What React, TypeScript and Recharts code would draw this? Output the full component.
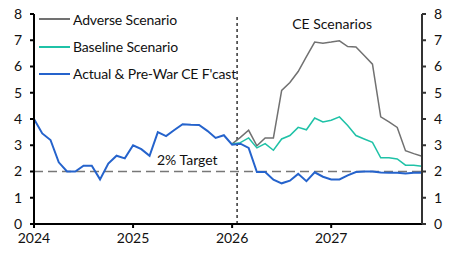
import {
  ComposedChart,
  Line,
  XAxis,
  YAxis,
  ReferenceLine,
} from 'recharts';

const YEARS = ['2024', '2025', '2026', '2027'];
const X_TICKS = [0, 12, 24, 36];
const Y_TICKS = [0, 1, 2, 3, 4, 5, 6, 7, 8];

// monthly, Jan 2024 - Dec 2027
const ACTUAL = [
  4.0, 3.45, 3.2, 2.35, 2.0, 2.0, 2.22, 2.22, 1.7, 2.3, 2.6, 2.5,
  3.0, 2.85, 2.6, 3.5, 3.35, 3.58, 3.8, 3.78, 3.77, 3.55, 3.28, 3.38,
  3.02, 3.06, 2.9, 1.98, 1.98, 1.69, 1.55, 1.65, 1.91, 1.63, 1.97, 1.8,
  1.7, 1.7, 1.85, 1.98, 2.0, 2.0, 1.96, 1.95, 1.95, 1.92, 1.95, 1.95,
];
// scenarios start Jan 2026 (index 24)
const SCENARIO_START = 24;
const ADVERSE = [
  3.05, 3.3, 3.57, 2.98, 3.28, 3.28, 5.09, 5.39, 5.81, 6.38, 6.93, 6.89,
  6.93, 6.98, 6.76, 6.74, 6.42, 6.09, 4.08, 3.89, 3.68, 2.79, 2.68, 2.58,
];
const BASELINE = [
  3.05, 3.1, 3.28, 2.9, 3.06, 2.81, 3.24, 3.37, 3.68, 3.59, 4.04, 3.89,
  3.95, 4.08, 3.75, 3.37, 3.24, 3.11, 2.52, 2.52, 2.48, 2.24, 2.24, 2.2,
];
const WAR_START = 24.6;
const TARGET = 2;

const GREY = '#717171';
const TEAL = '#1fc2a7';
const BLUE = '#2563cc';
const FONT = 'Lato, sans-serif';

const LEGEND_ITEMS = [
  { name: 'Adverse Scenario', color: GREY },
  { name: 'Baseline Scenario', color: TEAL },
  { name: "Actual & Pre-War CE F'cast", color: BLUE },
];

const data = ACTUAL.map((v, i) => {
  const j = i - SCENARIO_START;
  return {
    m: i,
    actual: v,
    adverse: j >= 0 ? ADVERSE[j] : null,
    baseline: j >= 0 ? BASELINE[j] : null,
  };
});

function LegendBox() {
  return (
    <div style={{ position: 'absolute', left: 39, top: 5.5, fontFamily: FONT, fontSize: 14, color: '#111', letterSpacing: -0.15 }}>
      {LEGEND_ITEMS.map((it) => (
        <div key={it.name} style={{ display: 'flex', alignItems: 'center', height: 27.4 }}>
          <span style={{ display: 'inline-block', width: 31, height: 2, background: it.color, marginRight: 3 }} />
          <span>{it.name}</span>
        </div>
      ))}
    </div>
  );
}

export default function App() {
  const tick = { fontSize: 14, fill: '#111', fontFamily: FONT };
  return (
    <div style={{ position: 'absolute', left: 0, top: 0, width: 452, height: 253, background: '#fff' }}>
      <ComposedChart width={452} height={253} data={data} margin={{ top: 14, right: 0, bottom: 0, left: 0 }}>
        <XAxis
          dataKey="m"
          type="number"
          domain={[0, 47]}
          ticks={X_TICKS}
          tickFormatter={(v) => YEARS[X_TICKS.indexOf(v)]}
          height={29}
          tick={tick}
          tickSize={4}
          tickMargin={5}
          axisLine={{ stroke: '#000', strokeWidth: 2 }}
          tickLine={{ stroke: '#000', strokeWidth: 2 }}
        />
        <YAxis
          yAxisId="l"
          domain={[0, 8]}
          ticks={Y_TICKS}
          width={34}
          tick={tick}
          tickSize={4}
          tickMargin={8}
          axisLine={{ stroke: '#000', strokeWidth: 2 }}
          tickLine={{ stroke: '#000', strokeWidth: 2 }}
        />
        <YAxis
          yAxisId="r"
          orientation="right"
          domain={[0, 8]}
          ticks={Y_TICKS}
          width={30}
          tick={tick}
          tickSize={4}
          tickMargin={8}
          axisLine={{ stroke: '#333', strokeWidth: 2 }}
          tickLine={{ stroke: '#333', strokeWidth: 2 }}
        />
        <ReferenceLine
          yAxisId="l"
          y={TARGET}
          stroke="#777"
          strokeWidth={1.5}
          strokeDasharray="9 5"
          label={(p: any) => (
            <text x={p.viewBox.x + 123} y={p.viewBox.y - 7} fontSize={14} fontFamily={FONT} fill="#111">
              2% Target
            </text>
          )}
        />
        <ReferenceLine
          yAxisId="l"
          x={WAR_START}
          stroke="#000"
          strokeWidth={1.2}
          strokeDasharray="3 3"
          label={(p: any) => (
            <text x={p.viewBox.x + 95} y={29} fontSize={14} fontFamily={FONT} fill="#111" textAnchor="middle">
              CE Scenarios
            </text>
          )}
        />
        <Line yAxisId="r" dataKey="adverse" stroke={GREY} strokeWidth={1.5} dot={false} isAnimationActive={false} />
        <Line yAxisId="l" dataKey="baseline" stroke={TEAL} strokeWidth={1.5} dot={false} isAnimationActive={false} />
        <Line yAxisId="l" dataKey="actual" stroke={BLUE} strokeWidth={2} dot={false} isAnimationActive={false} />
      </ComposedChart>
      <LegendBox />
    </div>
  );
}
